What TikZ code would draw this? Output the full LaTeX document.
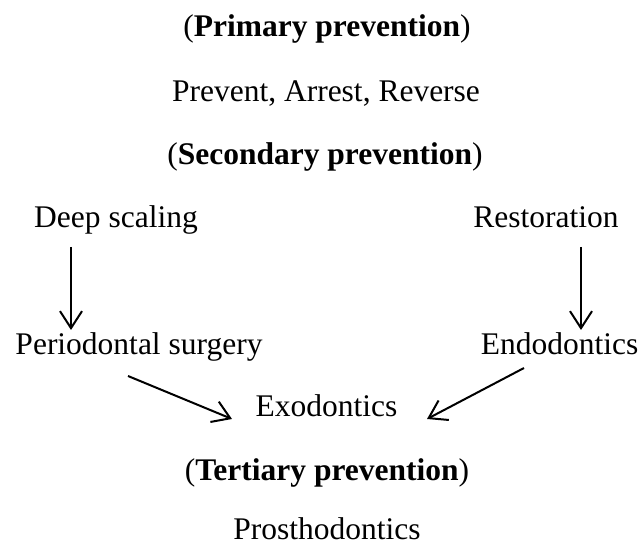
\documentclass[tikz,border=0pt]{standalone}
\usepackage{fontspec}
\setmainfont{Liberation Serif}
\usepackage{tikz}
\usetikzlibrary{arrows.meta,positioning}
\tikzstyle{arrow} = [line width=2pt,-{Straight Barb[length=17pt,width=22pt,line width=2pt]}]
\tikzstyle{level} = [font=\fontsize{31.5}{38}\selectfont, inner sep=0pt, anchor=base]
\tikzstyle{stage} = [level, text centered]

\begin{document}
\begin{tikzpicture}[x=1pt,y=1pt]
\useasboundingbox (0,0) rectangle (642,546);
% Prevention levels
\node (primary) [level] at (327,509) {(\textbf{Primary prevention})};
\node (par) [stage] at (326,444) {Prevent, Arrest, Reverse};
\node (secondary) [level] at (325,381) {(\textbf{Secondary prevention})};

% Secondary treatments
\node (deep) [stage] at (116,318) {Deep scaling};
\node (resto) [stage] at (546,318) {Restoration};
\node (perio) [stage] at (139,191) {Periodontal surgery};
\node (endo) [stage] at (559.5,191) {Endodontics};
\node (exo) [stage] at (326.5,129) {Exodontics};

% Tertiary
\node (tertiary) [level] at (327,66) {(\textbf{Tertiary prevention})};
\node (prostho) [stage] at (327,7) {Prosthodontics};

\draw[arrow] ([shift={(-45,-19)}]deep.base) -- ([shift={(-68,25)}]perio.base);
\draw[arrow] ([shift={(35,-19)}]resto.base) -- ([shift={(21.5,25)}]endo.base);
\draw[arrow] ([shift={(-11,-21)}]perio.base) -- ([shift={(-94.5,-2)}]exo.base);
\draw[arrow] ([shift={(-35.5,-13)}]endo.base) -- ([shift={(100.5,-2)}]exo.base);
\end{tikzpicture}
\end{document}
